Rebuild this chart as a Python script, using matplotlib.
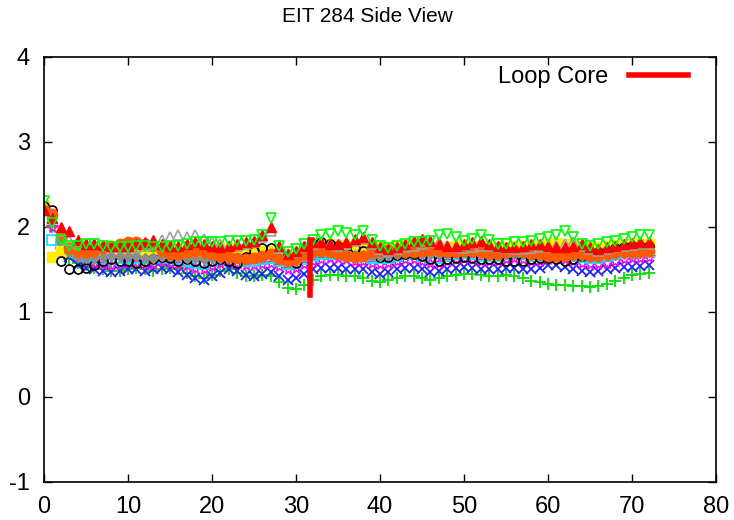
import numpy as np
import matplotlib
matplotlib.use("Agg")
import matplotlib.pyplot as plt

plt.rcParams['font.family'] = ['Liberation Sans', 'DejaVu Sans']
plt.rcParams['axes.unicode_minus'] = False

# Intensity profiles along the side view, one value per unit distance
x = np.arange(0, 73)

green_plus = [2.2, 2.0, 1.75, 1.62, 1.58, 1.55, 1.52, 1.5, 1.48, 1.48,
              1.5, 1.52, 1.5, 1.48, 1.5, 1.52, 1.5, 1.46, 1.42, 1.4,
              1.44, 1.48, 1.5, 1.46, 1.42, 1.42, 1.43, 1.42, 1.35, 1.28,
              1.27, 1.32, 1.38, 1.42, 1.43, 1.43, 1.42, 1.42, 1.4, 1.36,
              1.35, 1.38, 1.4, 1.42, 1.42, 1.4, 1.38, 1.4, 1.42, 1.44,
              1.45, 1.45, 1.43, 1.42, 1.42, 1.43, 1.42, 1.4, 1.37, 1.35,
              1.33, 1.32, 1.32, 1.3, 1.3, 1.29, 1.3, 1.33, 1.37, 1.4,
              1.43, 1.45, 1.46]
blue_x = [2.25, 2.1, 1.85, 1.65, 1.55, 1.52, 1.5, 1.48, 1.47, 1.48,
          1.5, 1.5, 1.48, 1.5, 1.52, 1.5, 1.47, 1.44, 1.4, 1.38,
          1.42, 1.46, 1.5, 1.48, 1.43, 1.42, 1.45, 1.47, 1.42, 1.38,
          1.4, 1.45, 1.5, 1.52, 1.52, 1.52, 1.5, 1.5, 1.5, 1.47,
          1.45, 1.47, 1.5, 1.52, 1.52, 1.5, 1.47, 1.48, 1.5, 1.52,
          1.53, 1.52, 1.5, 1.5, 1.5, 1.52, 1.52, 1.5, 1.5, 1.52,
          1.55, 1.55, 1.53, 1.5, 1.48, 1.47, 1.48, 1.5, 1.52, 1.53,
          1.53, 1.54, 1.55]
magenta_star = [2.2, 2.0, 1.8, 1.7, 1.65, 1.6, 1.58, 1.56, 1.55, 1.56,
                1.58, 1.58, 1.56, 1.57, 1.6, 1.58, 1.56, 1.55, 1.52, 1.5,
                1.54, 1.58, 1.6, 1.58, 1.55, 1.55, 1.57, 1.58, 1.54, 1.5,
                1.52, 1.56, 1.6, 1.62, 1.63, 1.63, 1.62, 1.6, 1.6, 1.58,
                1.57, 1.58, 1.6, 1.62, 1.62, 1.6, 1.58, 1.58, 1.6, 1.62,
                1.63, 1.62, 1.6, 1.6, 1.6, 1.62, 1.63, 1.62, 1.6, 1.6,
                1.62, 1.63, 1.62, 1.6, 1.58, 1.57, 1.57, 1.58, 1.6, 1.62,
                1.63, 1.64, 1.65]
cyan_square = [2.2, 1.85, 1.8, 1.75, 1.7, 1.66, 1.64, 1.62, 1.62, 1.63,
               1.64, 1.64, 1.63, 1.63, 1.65, 1.64, 1.62, 1.6, 1.58, 1.57,
               1.6, 1.63, 1.65, 1.63, 1.6, 1.6, 1.62, 1.64, 1.6, 1.57,
               1.58, 1.62, 1.66, 1.68, 1.68, 1.68, 1.67, 1.66, 1.66, 1.64,
               1.63, 1.64, 1.66, 1.68, 1.68, 1.66, 1.64, 1.64, 1.66, 1.68,
               1.69, 1.68, 1.66, 1.66, 1.66, 1.68, 1.69, 1.68, 1.66, 1.66,
               1.68, 1.69, 1.68, 1.66, 1.65, 1.64, 1.64, 1.66, 1.68, 1.7,
               1.71, 1.72, 1.72]
yellow_square = [2.25, 1.65, 1.72, 1.75, 1.72, 1.72, 1.74, 1.75, 1.75, 1.74,
                 1.74, 1.75, 1.73, 1.72, 1.74, 1.75, 1.74, 1.72, 1.7, 1.7,
                 1.72, 1.74, 1.75, 1.73, 1.7, 1.7, 1.72, 1.72, 1.7, 1.66,
                 1.68, 1.74, 1.78, 1.8, 1.8, 1.79, 1.78, 1.77, 1.77, 1.76,
                 1.76, 1.77, 1.78, 1.79, 1.8, 1.78, 1.76, 1.76, 1.77, 1.78,
                 1.79, 1.78, 1.77, 1.76, 1.76, 1.77, 1.78, 1.78, 1.78, 1.78,
                 1.8, 1.81, 1.8, 1.8, 1.78, 1.77, 1.77, 1.78, 1.79, 1.8,
                 1.8, 1.8, 1.8]
black_circle = [2.25, 2.2, 1.6, 1.5, 1.5, 1.52, 1.55, 1.6, 1.62, 1.6,
                1.6, 1.58, 1.6, 1.62, 1.65, 1.63, 1.6, 1.62, 1.6, 1.58,
                1.6, 1.62, 1.6, 1.58, 1.65, 1.72, 1.75, 1.75, 1.68, 1.6,
                1.58, 1.7, 1.8, 1.82, 1.8, 1.78, 1.76, 1.75, 1.72, 1.68,
                1.65, 1.65, 1.67, 1.68, 1.68, 1.66, 1.62, 1.6, 1.62, 1.64,
                1.65, 1.64, 1.62, 1.62, 1.62, 1.6, 1.6, 1.6, 1.62, 1.63,
                1.64, 1.62, 1.6, 1.62, 1.66, 1.68, 1.7, 1.72, 1.75, 1.77,
                1.78, 1.78, 1.78]
orange_circle = [2.2, 2.15, 1.9, 1.75, 1.7, 1.7, 1.72, 1.75, 1.78, 1.8,
                 1.82, 1.82, 1.8, 1.78, 1.72, 1.68, 1.68, 1.7, 1.72, 1.7,
                 1.68, 1.66, 1.65, 1.63, 1.62, 1.64, 1.66, 1.68, 1.62, 1.6,
                 1.62, 1.68, 1.72, 1.72, 1.7, 1.68, 1.66, 1.65, 1.66, 1.7,
                 1.72, 1.73, 1.72, 1.7, 1.7, 1.72, 1.73, 1.73, 1.7, 1.7,
                 1.72, 1.72, 1.7, 1.68, 1.68, 1.7, 1.72, 1.7, 1.68, 1.68,
                 1.66, 1.66, 1.66, 1.68, 1.68, 1.66, 1.66, 1.68, 1.7, 1.7,
                 1.7, 1.7, 1.72]
gray_triangle = [2.2, 2.1, 1.95, 1.85, 1.8, 1.8, 1.8, 1.78, 1.76, 1.76,
                 1.76, 1.77, 1.78, 1.8, 1.85, 1.88, 1.9, 1.88, 1.9, 1.86,
                 1.82, 1.8, 1.78, 1.78, 1.8, 1.82, 1.88, 1.95, 1.75, 1.68,
                 1.7, 1.76, 1.8, 1.82, 1.8, 1.78, 1.8, 1.84, 1.86, 1.8,
                 1.74, 1.72, 1.74, 1.76, 1.78, 1.8, 1.82, 1.82, 1.78, 1.76,
                 1.75, 1.76, 1.78, 1.78, 1.76, 1.75, 1.74, 1.74, 1.75, 1.76,
                 1.76, 1.78, 1.8, 1.82, 1.78, 1.74, 1.72, 1.74, 1.76, 1.78,
                 1.79, 1.8, 1.8]
red_triangle = [2.2, 2.1, 2.0, 1.95, 1.85, 1.8, 1.8, 1.79, 1.78, 1.78,
                1.78, 1.8, 1.82, 1.85, 1.8, 1.78, 1.78, 1.8, 1.82, 1.8,
                1.78, 1.77, 1.78, 1.8, 1.82, 1.84, 1.9, 2.0, 1.78, 1.68,
                1.72, 1.78, 1.82, 1.82, 1.8, 1.8, 1.82, 1.86, 1.88, 1.82,
                1.76, 1.74, 1.76, 1.8, 1.84, 1.86, 1.84, 1.8, 1.78, 1.78,
                1.8, 1.82, 1.84, 1.8, 1.78, 1.76, 1.76, 1.78, 1.8, 1.8,
                1.78, 1.76, 1.76, 1.78, 1.8, 1.76, 1.74, 1.76, 1.78, 1.8,
                1.81, 1.82, 1.82]
green_triangle = [2.3, 2.05, 1.85, 1.78, 1.78, 1.8, 1.8, 1.78, 1.76, 1.76,
                  1.77, 1.78, 1.78, 1.76, 1.76, 1.78, 1.78, 1.8, 1.82, 1.82,
                  1.82, 1.82, 1.83, 1.83, 1.84, 1.85, 1.9, 2.1, 1.78, 1.7,
                  1.74, 1.8, 1.85, 1.9, 1.92, 1.95, 1.93, 1.9, 1.95, 1.85,
                  1.78, 1.75, 1.78, 1.8, 1.82, 1.82, 1.84, 1.9, 1.92, 1.88,
                  1.84, 1.86, 1.9, 1.85, 1.8, 1.8, 1.82, 1.82, 1.84, 1.86,
                  1.88, 1.9, 1.95, 1.88, 1.8, 1.78, 1.8, 1.82, 1.84, 1.86,
                  1.88, 1.9, 1.9]
gray_band = [2.2, 2.1, 1.85, 1.7, 1.66, 1.64, 1.64, 1.65, 1.66, 1.66,
             1.66, 1.66, 1.64, 1.64, 1.66, 1.66, 1.65, 1.64, 1.63, 1.62,
             1.63, 1.64, 1.65, 1.64, 1.62, 1.62, 1.64, 1.66, 1.62, 1.58,
             1.6, 1.65, 1.68, 1.7, 1.7, 1.69, 1.68, 1.67, 1.67, 1.66,
             1.66, 1.67, 1.68, 1.69, 1.7, 1.69, 1.68, 1.68, 1.68, 1.69,
             1.7, 1.69, 1.68, 1.67, 1.67, 1.68, 1.68, 1.68, 1.67, 1.66,
             1.66, 1.66, 1.66, 1.66, 1.66, 1.65, 1.65, 1.66, 1.67, 1.68,
             1.68, 1.69, 1.7]

# Loop core marker: vertical segment at the loop position
core_x = [31.7, 31.7]
core_y = [1.2, 1.85]

fig = plt.figure(figsize=(7.34, 5.20), dpi=100)
ax = fig.add_axes([0.0599, 0.0731, 0.9156, 0.8173])

ms = 6.5
ax.plot(x, green_plus, '+', color='#00e000', ms=ms + 2, mew=1.3)
ax.plot(x, blue_x, 'x', color='#1f1fff', ms=ms, mew=1.3)
ax.plot(x, magenta_star, '*', color='#ff00ff', ms=ms + 2, mew=1.0, mfc='none')
ax.plot(x, cyan_square, 's', color='#00e0ff', ms=ms, mfc='none', mew=1.2)
ax.plot(x, yellow_square, 's', color='#ffee00', ms=ms)
ax.plot(x, black_circle, 'o', color='black', ms=ms, mfc='none', mew=1.2)
ax.plot(x, gray_band, 'D', color='#8c8c8c', ms=ms - 1)
ax.plot(x, orange_circle, 'o', color='#ff5a00', ms=ms + 1)
ax.plot(x, gray_triangle, '^', color='#a0a0a0', ms=ms + 1, mfc='none', mew=1.2)
ax.plot(x, red_triangle, '^', color='#ff0000', ms=ms + 1)
ax.plot(x, green_triangle, 'v', color='#00ff00', ms=ms + 1, mfc='none', mew=1.2)
ax.plot(core_x, core_y, color='red', lw=4, label='Loop Core', zorder=5)

ax.set_xlim(0, 80)
ax.set_ylim(-1, 4)
ax.set_xticks(range(0, 81, 10))
ax.set_yticks(range(-1, 5))
ax.tick_params(direction='in', top=True, right=True, labelsize=17,
               length=6, width=1, pad=10)
for s in ax.spines.values():
    s.set_linewidth(1.2)

fig.text(0.5, 1 - 17 / 520, 'EIT 284 Side View', fontsize=15,
         ha='center', va='center')

leg = ax.legend(loc='upper right', frameon=False, fontsize=17,
                handlelength=2.5, markerfirst=False, handletextpad=0.9,
                bbox_to_anchor=(0.98, 1.012), borderaxespad=0.2)

fig.savefig('out.png', dpi=100)
